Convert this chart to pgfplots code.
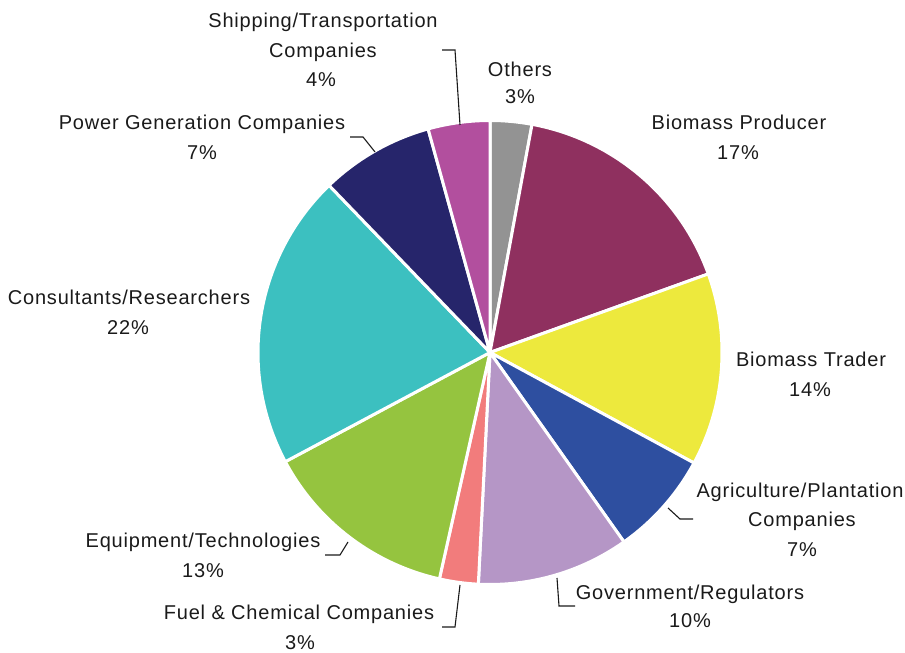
\documentclass[border=0pt]{standalone}
\usepackage{pgfplots}
\usepackage{pgfplotstable}
\pgfplotsset{compat=1.18}
\usepackage{fontspec}
\setmainfont[LetterSpace=4]{Liberation Sans}
\definecolor{c0}{HTML}{939393}
\definecolor{c1}{HTML}{8F305F}
\definecolor{c2}{HTML}{EDE93D}
\definecolor{c3}{HTML}{2E4FA0}
\definecolor{c4}{HTML}{B596C6}
\definecolor{c5}{HTML}{F27C7C}
\definecolor{c6}{HTML}{95C43F}
\definecolor{c7}{HTML}{3CC0C0}
\definecolor{c8}{HTML}{26256B}
\definecolor{c9}{HTML}{B24F9E}
\definecolor{txt}{HTML}{1A1A1A}
% share of each slice (per cent), clockwise from 12 o'clock
\pgfplotstableread{
label value
Others 2.9
BiomassProducer 16.6
BiomassTrader 13.4
Agriculture 7.3
Government 10.6
Fuel 2.7
Equipment 13.7
Consultants 20.6
PowerGeneration 7.9
Shipping 4.3
}\piedata
\newcommand\labfont{\fontsize{10}{12}\selectfont}
\newcommand\lab[3]{\node[anchor=base, inner sep=0pt, font=\labfont, text=txt] at (axis cs:#1,{653-#2}) {#3};}
\newcommand\lead[6]{\draw[line width=0.55pt, txt] (axis cs:#1,{653-#2}) -- (axis cs:#3,{653-#4}) -- (axis cs:#5,{653-#6});}
\begin{document}
\begin{tikzpicture}
\xdef\cum{90}
\pgfplotsforeachungrouped \i in {0,...,9}{%
  \pgfplotstablegetelem{\i}{value}\of\piedata
  \pgfmathsetmacro\endang{\cum-3.6*\pgfplotsretval}%
  \expandafter\xdef\csname pieS\i\endcsname{\cum}%
  \expandafter\xdef\csname pieE\i\endcsname{\endang}%
  \xdef\cum{\endang}%
}
\begin{axis}[hide axis, scale only axis, width=452.5pt, height=326.5pt,
  xmin=0, xmax=905, ymin=0, ymax=653, clip=false]
\addplot[draw=none, forget plot] coordinates {(0,0) (905,653)};
\pgfplotsinvokeforeach{0,...,9}{
  \path[fill=c#1, draw=white, line width=1.5pt, line join=round]
    (axis cs:490,300.5) -- ++(\csname pieS#1\endcsname:116pt)
    arc[start angle=\csname pieS#1\endcsname, end angle=\csname pieE#1\endcsname, radius=116pt] -- cycle;
}
% labels
\lab{323}{28}{Shipping/Transportation}
\lab{323}{58}{Companies}
\lab{321}{87}{4\%}
\lab{520}{77}{Others}
\lab{520}{104}{3\%}
\lab{202}{130}{Power Generation Companies}
\lab{202}{160}{7\%}
\lab{129}{305}{Consultants/Researchers}
\lab{128}{335}{22\%}
\lab{739}{130}{Biomass Producer}
\lab{738}{160}{17\%}
\lab{811}{367}{Biomass Trader}
\lab{810}{397}{14\%}
\lab{800}{498}{Agriculture/Plantation}
\lab{802}{527}{Companies}
\lab{802}{557}{7\%}
\lab{690}{600}{Government/Regulators}
\lab{690}{628}{10\%}
\lab{203}{548}{Equipment/Technologies}
\lab{203}{578}{13\%}
\lab{299}{620}{Fuel \& Chemical Companies}
\lab{300}{650}{3\%}
% leader lines
\lead{442}{50}{455}{50}{460}{125}
\lead{350}{137}{363}{137}{375}{152}
\lead{668}{508}{680}{519}{693}{519}
\lead{557}{578}{559}{606}{575}{606}
\lead{325}{555}{340}{555}{348}{542}
\lead{442}{627}{455}{627}{460}{585}
\end{axis}
\pgfresetboundingbox
\useasboundingbox (current axis.south west) rectangle (current axis.north east);
\end{tikzpicture}
\end{document}
